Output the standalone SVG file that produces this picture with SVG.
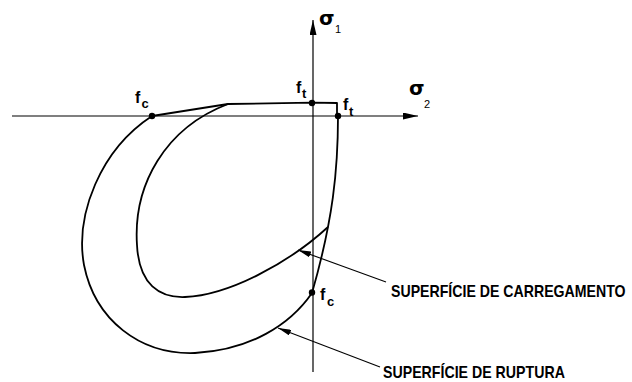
<svg xmlns="http://www.w3.org/2000/svg" width="632" height="382" viewBox="0 0 632 382">
<style>
.ax{stroke:#000;stroke-width:1.2;fill:none}
.cv{stroke:#000;stroke-width:1.8;fill:none;stroke-linejoin:round}
.ld{stroke:#000;stroke-width:1.1;fill:none}
.dot{fill:#000}
.lb{font-family:"Liberation Sans",Arial,sans-serif;font-size:16px;font-weight:bold;fill:#000}
.sb{font-family:"Liberation Sans",Arial,sans-serif;font-size:13px;font-weight:bold;fill:#000}
.sg{font-family:"DejaVu Sans","Liberation Sans",sans-serif;font-size:20px;font-weight:bold;fill:#000}
.sn{font-family:"Liberation Sans",Arial,sans-serif;font-size:11px;fill:#000}
.tx{font-family:"Liberation Sans",Arial,sans-serif;font-size:16px;font-weight:bold;fill:#000}
</style>
<defs>
<marker id="ah" markerUnits="userSpaceOnUse" viewBox="0 0 15 7" refX="15" refY="3.5" markerWidth="15" markerHeight="7" orient="auto">
<path d="M0,0 L15,3.5 L0,7 Z" fill="#000"/>
</marker>
<marker id="la" markerUnits="userSpaceOnUse" viewBox="0 0 13 6" refX="13" refY="3" markerWidth="13" markerHeight="6" orient="auto">
<path d="M0,0 L13,3 L0,6 Z" fill="#000"/>
</marker>
</defs>
<rect width="632" height="382" fill="#fff"/>
<g id="axes">
<line class="ax" x1="12" y1="116" x2="418" y2="116" marker-end="url(#ah)"/>
<line class="ax" x1="313" y1="372" x2="313" y2="20" marker-end="url(#ah)"/>
<text class="sg" x="319" y="25">σ</text><text class="sn" x="335" y="33">1</text>
<text class="sg" x="409" y="95">σ</text><text class="sn" x="424" y="108">2</text>
</g>
<g id="superficie-ruptura">
<path class="cv" d="M152,116 L228,104 L312,102.7 L337,103 L337,116"/>
<path class="cv" d="M338,116 C338,170 333,220 312,293 C290,325 250,350 195,353 C140,355 95,320 84,265 C75,215 100,150 152,116"/>
</g>
<g id="superficie-carregamento">
<path class="cv" d="M228,104 C165,128 133,185 137,245 C139,285 160,298 185,297 C230,295 290,262 328,227"/>
</g>
<g id="points">
<circle class="dot" cx="152" cy="116" r="3.2"/>
<circle class="dot" cx="312" cy="103" r="3.2"/>
<circle class="dot" cx="338" cy="116" r="3.2"/>
<circle class="dot" cx="312" cy="292.5" r="3.2"/>
<text class="lb" x="135" y="103">f</text><text class="sb" x="141.5" y="108">c</text>
<text class="lb" x="296" y="92.5">f</text><text class="sb" x="302" y="98">t</text>
<text class="lb" x="343" y="110">f</text><text class="sb" x="349" y="115.5">t</text>
<text class="lb" x="320" y="300">f</text><text class="sb" x="327" y="306">c</text>
</g>
<g id="connectors">
<line class="ld" x1="386" y1="282" x2="298" y2="250" marker-end="url(#la)"/>
<line class="ld" x1="380" y1="367" x2="278" y2="328" marker-end="url(#la)"/>
</g>
<g id="labels">
<text class="tx" transform="translate(391,297) scale(0.884,1)">SUPERFÍCIE DE CARREGAMENTO</text>
<text class="tx" transform="translate(383,378) scale(0.886,1)">SUPERFÍCIE DE RUPTURA</text>
</g>
</svg>
